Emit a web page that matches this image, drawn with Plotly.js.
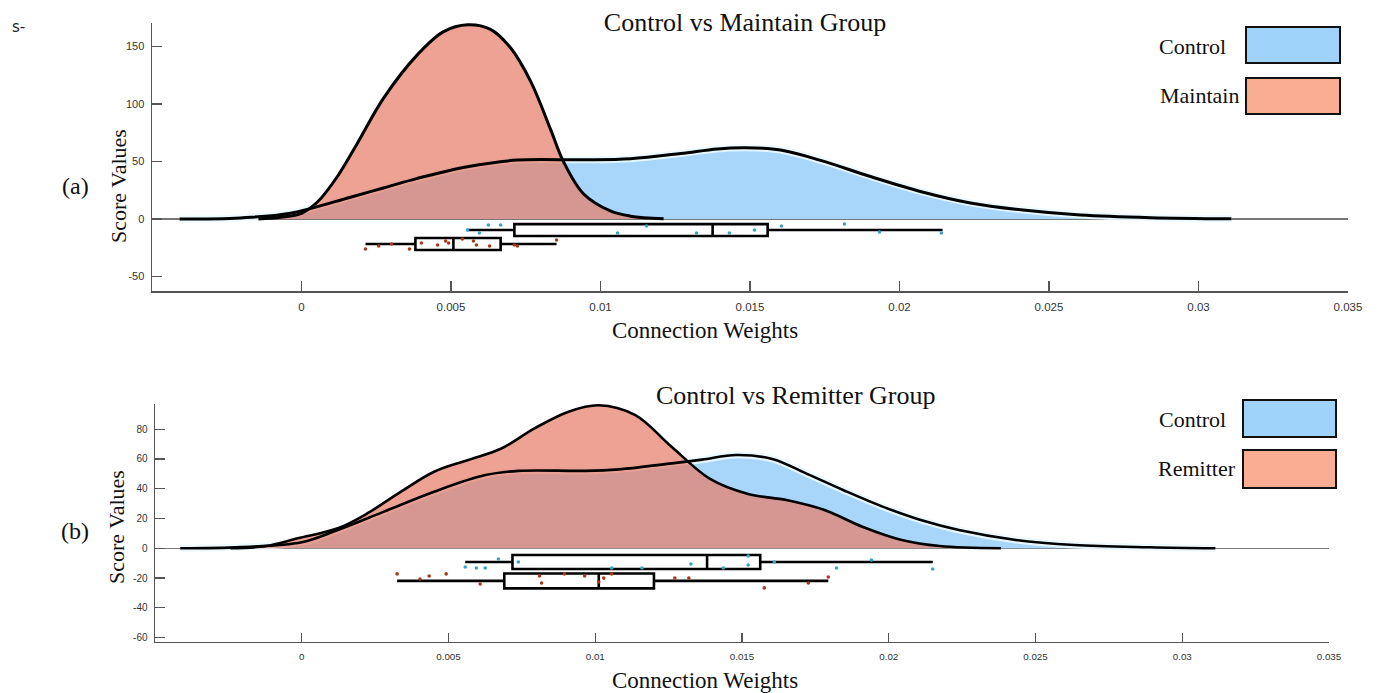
<!DOCTYPE html>
<html>
<head>
<meta charset="utf-8">
<script src="https://cdn.plot.ly/plotly-3.0.1.min.js"></script>
<style>html,body{margin:0;padding:0;background:#fff;}#chart{width:1379px;height:693px;}</style>
</head>
<body>
<div id="chart"></div>
<script>
// ---------- DATA ----------
// (a) Control vs Maintain : density curves
const topControlX = [-0.00408, -0.00204, -0.00037, 0.00164, 0.00274, 0.00388, 0.00555, 0.00722, 0.00943, 0.011, 0.01268, 0.01391, 0.01485, 0.01602, 0.01736, 0.01903, 0.0207, 0.02237, 0.02405, 0.02605, 0.0284, 0.0311];
const topControlY = [0, 1, 5, 19, 27, 35.4, 45.5, 51.3, 51.5, 52.5, 57, 61, 62, 60, 51, 37, 24, 14, 8, 3.5, 1.2, 0.2];
const topMaintainX = [-0.00144, -0.0007, 0, 0.00054, 0.0012, 0.00187, 0.00274, 0.00388, 0.00475, 0.00555, 0.00632, 0.00699, 0.00766, 0.00833, 0.00876, 0.00943, 0.01033, 0.011, 0.01211];
const topMaintainY = [0, 1.5, 5, 15, 37, 66, 105, 143, 163, 169, 165, 149, 120, 78, 50, 22, 7, 2.5, 0.3];

// (b) Control vs Remitter : density curves
const botControlX = [-0.00414, -0.00208, 0, 0.00123, 0.0028, 0.00451, 0.00622, 0.00738, 0.00964, 0.0108, 0.01261, 0.01364, 0.0148, 0.01603, 0.01716, 0.01846, 0.01979, 0.02109, 0.02239, 0.02433, 0.02632, 0.02891, 0.03113];
const botControlY = [0, 0.8, 4, 12.3, 24.6, 38, 49, 52, 52, 53, 57, 59.5, 62.6, 60, 50.5, 39, 28, 19, 12.3, 5.6, 2.2, 0.7, 0];
const botRemitterX = [-0.00243, -0.00123, -0.00014, 0.00123, 0.00226, 0.00338, 0.00451, 0.00567, 0.0068, 0.00793, 0.00909, 0.01012, 0.01135, 0.01261, 0.01388, 0.01521, 0.01651, 0.01781, 0.0191, 0.02044, 0.02174, 0.02382];
const botRemitterY = [0, 1.5, 6.7, 13.4, 23.7, 38, 51.4, 59.3, 67, 80.5, 91.7, 96, 89.5, 68, 47, 36.5, 32.4, 25.7, 14.5, 5.6, 1.5, 0];

// box plot statistics: [lower whisker, Q1, median, Q3, upper whisker]
const topControlBox  = [0.00552, 0.00712, 0.01375, 0.01559, 0.02144];
const topMaintainBox = [0.00214, 0.00381, 0.00508, 0.00666, 0.00853];
const botControlBox  = [0.00557, 0.00718, 0.01381, 0.01562, 0.0215];
const botRemitterBox = [0.00325, 0.0069, 0.01012, 0.012, 0.01794];

// raw (jittered) points
const topControlDotsX = [0.00555, 0.00595, 0.00625, 0.00666, 0.01057, 0.01154, 0.01321, 0.01431, 0.01515, 0.01605, 0.01816, 0.01933, 0.0214];
const topControlDotsY = [-9.6, -12.2, -5.2, -5.2, -12.2, -6.1, -12.2, -12.2, -9.6, -6.1, -4.3, -11.3, -12.2];
const topMaintainDotsX = [0.00214, 0.00258, 0.00301, 0.00361, 0.00401, 0.00455, 0.00482, 0.00492, 0.00538, 0.00575, 0.00585, 0.00629, 0.00712, 0.00722, 0.00853];
const topMaintainDotsY = [-26.1, -23.5, -21.7, -26.1, -20.9, -22.6, -19.1, -20.9, -17.4, -19.1, -22.6, -23.5, -22.6, -23.5, -18.3];
const botControlDotsX = [0.00557, 0.00595, 0.00625, 0.0067, 0.00738, 0.01056, 0.01159, 0.01326, 0.01436, 0.01521, 0.01521, 0.0161, 0.01822, 0.01941, 0.0215];
const botControlDotsY = [-12.6, -13.2, -13.2, -7.2, -9.2, -13.2, -13.2, -10.5, -13.2, -11.2, -5.2, -9.2, -13.2, -7.9, -13.9];
const botRemitterDotsX = [0.00325, 0.00403, 0.00434, 0.00492, 0.00608, 0.0081, 0.00817, 0.00895, 0.00964, 0.01012, 0.01029, 0.01056, 0.01271, 0.01319, 0.01576, 0.01726, 0.01794];
const botRemitterDotsY = [-17.2, -20.6, -18.6, -17.2, -24, -18.6, -23.3, -17.2, -18.6, -22.6, -20, -17.2, -20, -20, -26.6, -23.3, -19.3];

// axis ticks
const xTickVals = [0, 0.005, 0.01, 0.015, 0.02, 0.025, 0.03, 0.035];
const xTickText = ['0', '0.005', '0.01', '0.015', '0.02', '0.025', '0.03', '0.035'];
const topYTickVals = [-50, 0, 50, 100, 150];
const topYTickText = ['-50', '0', '50', '100', '150'];
const botYTickVals = [-60, -40, -20, 0, 20, 40, 60, 80];
const botYTickText = ['-60', '-40', '-20', '0', '20', '40', '60', '80'];

// ---------- STYLE / LAYOUT ----------
const W = 1379, H = 693;
const px = p => p / W;
const py = p => 1 - p / H;
const SERIF = '"Times New Roman", "Liberation Serif", serif';
const SANS = 'Arial, "Liberation Sans", sans-serif';
const BLUE = 'rgb(168,213,250)';
const RED = 'rgba(231,126,105,0.72)';
const TXT = '#111';

function fillTrace(x, y, color, xa, ya) {
  return {x, y, xaxis: xa, yaxis: ya, type: 'scatter', mode: 'lines', fill: 'tozeroy',
    fillcolor: color, line: {width: 0, shape: 'spline', smoothing: 1}, hoverinfo: 'skip', showlegend: false};
}
function lineTrace(x, y, w, color, xa, ya) {
  return {x, y, xaxis: xa, yaxis: ya, type: 'scatter', mode: 'lines',
    line: {width: w, color: color, shape: 'spline', smoothing: 1}, hoverinfo: 'skip', showlegend: false};
}
function boxTrace(s, pos, w, xa, ya) {
  return {type: 'box', orientation: 'h', xaxis: xa, yaxis: ya, y: [pos],
    lowerfence: [s[0]], q1: [s[1]], median: [s[2]], q3: [s[3]], upperfence: [s[4]],
    width: w, fillcolor: '#fff', line: {color: '#000', width: 2.6}, whiskerwidth: 0,
    boxpoints: false, hoverinfo: 'skip', showlegend: false};
}
function dotTrace(x, y, color, xa, ya) {
  return {x, y, xaxis: xa, yaxis: ya, type: 'scatter', mode: 'markers',
    marker: {size: 3.6, color: color}, hoverinfo: 'skip', showlegend: false};
}

const traces = [
  fillTrace(topControlX, topControlY, BLUE, 'x', 'y'),
  lineTrace(topControlX, topControlY, 7, 'rgba(235,250,255,0.9)', 'x', 'y'),
  fillTrace(topMaintainX, topMaintainY, RED, 'x', 'y'),
  lineTrace(topControlX, topControlY, 3, '#000', 'x', 'y'),
  lineTrace(topMaintainX, topMaintainY, 3, '#000', 'x', 'y'),
  boxTrace(topControlBox, -9.6, 10.4, 'x', 'y'),
  boxTrace(topMaintainBox, -21.7, 10.4, 'x', 'y'),
  dotTrace(topControlDotsX, topControlDotsY, '#3aa3c6', 'x', 'y'),
  dotTrace(topMaintainDotsX, topMaintainDotsY, '#a63a1e', 'x', 'y'),

  fillTrace(botControlX, botControlY, BLUE, 'x2', 'y2'),
  lineTrace(botControlX, botControlY, 7, 'rgba(235,250,255,0.9)', 'x2', 'y2'),
  fillTrace(botRemitterX, botRemitterY, RED, 'x2', 'y2'),
  lineTrace(botControlX, botControlY, 2.6, '#000', 'x2', 'y2'),
  lineTrace(botRemitterX, botRemitterY, 2.6, '#000', 'x2', 'y2'),
  boxTrace(botControlBox, -9.2, 9.4, 'x2', 'y2'),
  boxTrace(botRemitterBox, -21.9, 10, 'x2', 'y2'),
  dotTrace(botControlDotsX, botControlDotsY, '#3aa3c6', 'x2', 'y2'),
  dotTrace(botRemitterDotsX, botRemitterDotsY, '#a63a1e', 'x2', 'y2')
];

function xAxis(dom, anchor, size, tl) {
  return {domain: dom, anchor: anchor, range: [-0.005, 0.035], showgrid: false, zeroline: false,
    showline: true, linecolor: '#555', linewidth: 1.5, ticks: 'inside', ticklen: tl, tickwidth: 1.2,
    tickcolor: '#555', tickvals: xTickVals, ticktext: xTickText, ticklabelstandoff: 5,
    tickfont: {family: SANS, size: size, color: '#333'}};
}
function yAxis(dom, anchor, range, tv, tt, size) {
  return {domain: dom, anchor: anchor, range: range, showgrid: false,
    zeroline: true, zerolinecolor: '#777', zerolinewidth: 1.2,
    showline: true, linecolor: '#555', linewidth: 1.5, ticks: 'inside', ticklen: 10, tickwidth: 1.2,
    tickcolor: '#555', tickvals: tv, ticktext: tt, ticklabelstandoff: 4,
    tickfont: {family: SANS, size: size, color: '#333'}};
}
function note(text, x, y, size, extra) {
  return Object.assign({text: text, xref: 'paper', yref: 'paper', x: px(x), y: py(y),
    xanchor: 'center', yanchor: 'middle', showarrow: false,
    font: {family: SERIF, size: size, color: TXT}}, extra || {});
}

const layout = {
  width: W, height: H, margin: {l: 0, r: 0, t: 0, b: 0},
  paper_bgcolor: '#fff', plot_bgcolor: 'rgba(0,0,0,0)', showlegend: false,
  title: {text: 'Control vs Maintain Group', x: px(745), xanchor: 'center', y: py(22), yanchor: 'middle',
    font: {family: SERIF, size: 26, color: TXT}},
  xaxis: xAxis([px(152), px(1348)], 'y', 11.5, 10),
  yaxis: yAxis([py(291), py(23)], 'x', [-62.6, 170.5], topYTickVals, topYTickText, 11),
  xaxis2: xAxis([px(155), px(1329)], 'y2', 9.8, 9),
  yaxis2: yAxis([py(641.7), py(403.8)], 'x2', [-62.7, 97], botYTickVals, botYTickText, 10),
  shapes: [
    {type: 'rect', xref: 'paper', yref: 'paper', x0: px(1246), x1: px(1340), y0: py(63), y1: py(27), fillcolor: '#9fd3fa', line: {color: '#111', width: 2}},
    {type: 'rect', xref: 'paper', yref: 'paper', x0: px(1246), x1: px(1340), y0: py(114), y1: py(78), fillcolor: '#f9ad93', line: {color: '#111', width: 2}},
    {type: 'rect', xref: 'paper', yref: 'paper', x0: px(1243), x1: px(1336), y0: py(437), y1: py(400), fillcolor: '#9fd3fa', line: {color: '#111', width: 2}},
    {type: 'rect', xref: 'paper', yref: 'paper', x0: px(1243), x1: px(1336), y0: py(488), y1: py(450), fillcolor: '#f9ad93', line: {color: '#111', width: 2}}
  ],
  annotations: [
    note('s-', 10, 27, 15, {xanchor: 'left', font: {family: '"DejaVu Sans", sans-serif', size: 15, color: '#222'}}),
    note('(a)', 75, 186, 24),
    note('(b)', 75, 531, 24),
    note('Control vs Remitter Group', 795, 395, 26),
    note('Connection Weights', 705, 330, 23),
    note('Connection Weights', 705, 680, 23),
    note('Score Values', 118, 186, 22, {textangle: -90}),
    note('Score Values', 116, 527, 22, {textangle: -90}),
    note('Control', 1228, 46, 22, {xanchor: 'right'}),
    note('Maintain', 1241, 96, 22, {xanchor: 'right'}),
    note('Control', 1228, 419, 22, {xanchor: 'right'}),
    note('Remitter', 1238, 468, 22, {xanchor: 'right'})
  ]
};

Plotly.newPlot('chart', traces, layout, {staticPlot: true, displayModeBar: false});
</script>
</body>
</html>
